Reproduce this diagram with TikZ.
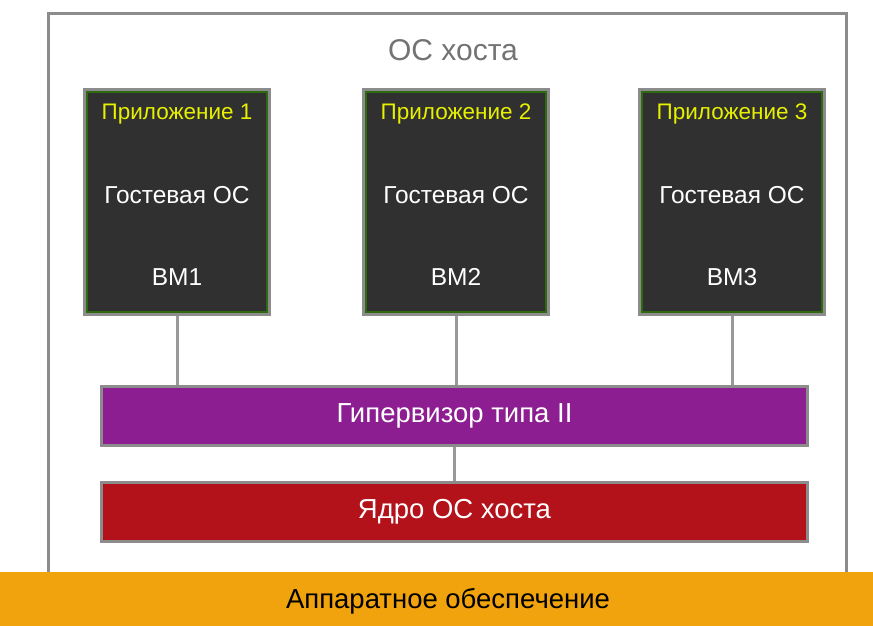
\documentclass[tikz,border=0pt]{standalone}
\usepackage{fontspec}
\setmainfont{Liberation Sans}
\usetikzlibrary{calc}
\begin{document}
\begin{tikzpicture}[x=1pt,y=-1pt,
  frame/.style={draw=black!45,line width=3pt},
  vmbox/.style={frame,fill=vmgray,minimum width=185pt,minimum height=225pt,anchor=north west,inner sep=0pt},
  bar/.style={frame,minimum width=706pt,minimum height=59pt,anchor=north west,inner sep=0pt,text=white,font=\fontsize{27.5}{31}\selectfont},
  link/.style={draw=black!40,line width=3pt},
  apptext/.style={text=appyellow,font=\fontsize{22.5}{26}\selectfont},
  vmtext/.style={text=white,font=\fontsize{24.5}{28}\selectfont}]
\definecolor{vmgray}{HTML}{303030}
\definecolor{appyellow}{HTML}{E6F000}
\definecolor{hvpurple}{HTML}{8C1E92}
\definecolor{kernred}{HTML}{B3121A}
\definecolor{hworange}{HTML}{F0A30C}
\definecolor{vmgreen}{HTML}{2E6A10}
\useasboundingbox (0,0) rectangle (873,626);
\fill[white] (0,0) rectangle (873,626);
% host OS frame
\draw[frame] (48,14) rectangle (846,574);
\node[text=black!55,font=\fontsize{30}{34}\selectfont] (host) at (453,50) {ОС хоста};
% hardware layer
\fill[hworange] (0,572) rectangle (873,626);
\node[font=\fontsize{27.5}{31}\selectfont] (hw) at (448,601) {Аппаратное обеспечение};
% virtual machines
\foreach \i/\x in {1/83,2/362,3/638}{
  \node[vmbox] (vm\i) at (\x,88) {};
  \draw[vmgreen,line width=1.2pt] ($(vm\i.north west)+(4,4)$) rectangle ($(vm\i.south east)+(-4,-4)$);
  \node[apptext] (app\i) at ($(vm\i.north)+(0,26)$) {Приложение \i};
  \node[vmtext] (gos\i) at ($(vm\i.north)+(0,107)$) {Гостевая ОС};
  \node[vmtext] (vmn\i) at ($(vm\i.north)+(0,189)$) {ВМ\i};
}
% hypervisor and kernel
\node[bar,fill=hvpurple] (hv) at (100,385) {Гипервизор типа II};
\node[bar,fill=kernred] (kern) at (100,481) {Ядро ОС хоста};
% links
\foreach \i in {1,2,3}{
  \draw[link] (vm\i.south) -- (vm\i.south |- hv.north);
}
\draw[link] (hv.south) -- (kern.north);
\end{tikzpicture}
\end{document}
